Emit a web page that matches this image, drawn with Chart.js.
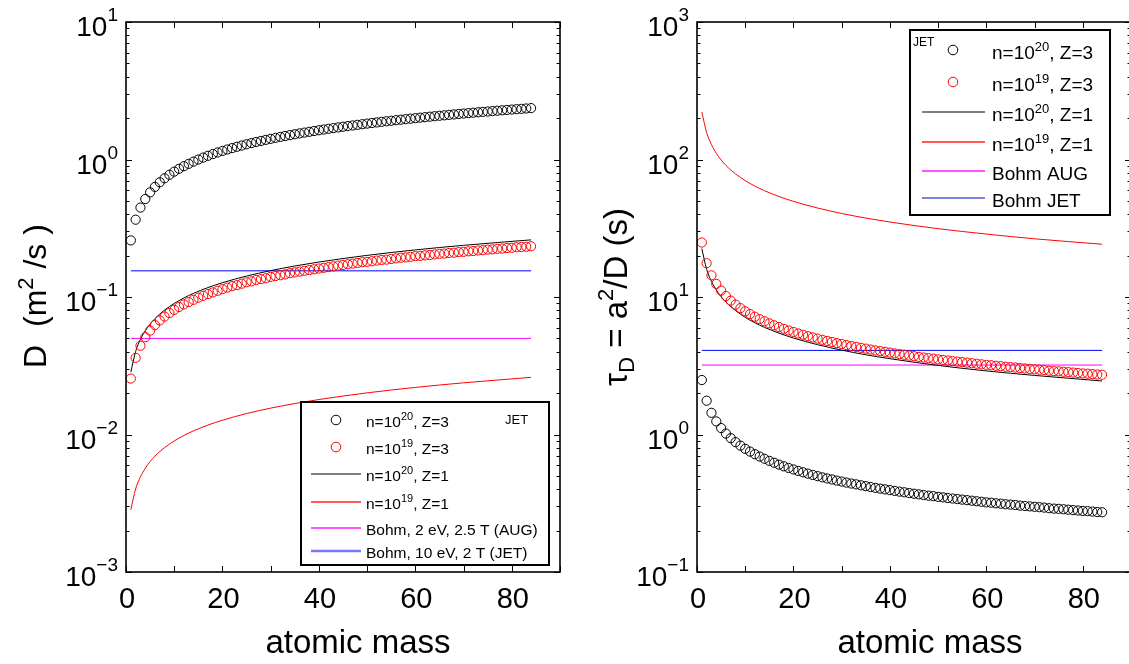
<!DOCTYPE html>
<html>
<head>
<meta charset="utf-8">
<script src="https://cdn.jsdelivr.net/npm/chart.js@4.4.1/dist/chart.umd.min.js"></script>
<style>
  html, body { margin: 0; padding: 0; background: #fff; overflow: hidden; width: 1129px; height: 664px; }
  canvas { position: absolute; top: 0; }
  #left { left: 0; }
  #right { left: 570px; }
</style>
</head>
<body>
<canvas id="left" width="570" height="664"></canvas>
<canvas id="right" width="570" height="664"></canvas>
<script>
// atomic mass of every marker
const mass = [1, 2, 3, 4, 5, 6, 7, 8, 9, 10, 11, 12, 13, 14, 15, 16, 17, 18, 19, 20,
  21, 22, 23, 24, 25, 26, 27, 28, 29, 30, 31, 32, 33, 34, 35, 36, 37, 38, 39, 40,
  41, 42, 43, 44, 45, 46, 47, 48, 49, 50, 51, 52, 53, 54, 55, 56, 57, 58, 59, 60,
  61, 62, 63, 64, 65, 66, 67, 68, 69, 70, 71, 72, 73, 74, 75, 76, 77, 78, 79, 80,
  81, 82, 83, 84];
// masses
const lineMass = [1, 2, 3, 4, 5, 6, 7, 8, 10, 12, 14, 17, 20, 25, 30, 35, 40, 50, 60, 70, 84];
const bohmMass = [1, 84];

// left panel : D (m^2/s)
const dCircHi = [0.258, 0.365, 0.447, 0.516, 0.577, 0.632, 0.683, 0.730, 0.774, 0.816,
  0.856, 0.894, 0.930, 0.965, 0.999, 1.032, 1.064, 1.095, 1.125, 1.154,
  1.182, 1.210, 1.237, 1.264, 1.290, 1.316, 1.341, 1.365, 1.389, 1.413,
  1.437, 1.460, 1.482, 1.504, 1.526, 1.548, 1.569, 1.590, 1.611, 1.632,
  1.652, 1.672, 1.692, 1.711, 1.731, 1.750, 1.769, 1.787, 1.806, 1.824,
  1.842, 1.860, 1.878, 1.896, 1.913, 1.931, 1.948, 1.965, 1.982, 1.998,
  2.015, 2.031, 2.048, 2.064, 2.080, 2.096, 2.112, 2.127, 2.143, 2.159,
  2.174, 2.189, 2.204, 2.219, 2.234, 2.249, 2.264, 2.279, 2.293, 2.308,
  2.322, 2.336, 2.350, 2.365];
const dCircLo = [0.0255, 0.0361, 0.0442, 0.0510, 0.0570, 0.0625, 0.0675, 0.0721, 0.0765, 0.0806,
  0.0846, 0.0883, 0.0919, 0.0954, 0.0988, 0.102, 0.105, 0.108, 0.111, 0.114,
  0.117, 0.120, 0.122, 0.125, 0.128, 0.130, 0.133, 0.135, 0.137, 0.140,
  0.142, 0.144, 0.146, 0.149, 0.151, 0.153, 0.155, 0.157, 0.159, 0.161,
  0.163, 0.165, 0.167, 0.169, 0.171, 0.173, 0.175, 0.177, 0.179, 0.180,
  0.182, 0.184, 0.186, 0.187, 0.189, 0.191, 0.193, 0.194, 0.196, 0.198,
  0.199, 0.201, 0.202, 0.204, 0.206, 0.207, 0.209, 0.210, 0.212, 0.213,
  0.215, 0.216, 0.218, 0.219, 0.221, 0.222, 0.224, 0.225, 0.227, 0.228,
  0.230, 0.231, 0.232, 0.234];
const dLineHi = [0.0284, 0.0402, 0.0492, 0.0568, 0.0635, 0.0696, 0.0751, 0.0803, 0.0898, 0.0984,
  0.1063, 0.1171, 0.1270, 0.142, 0.1555, 0.168, 0.1796, 0.2008, 0.220, 0.2376, 0.2603];
const dLineLo = [0.00284, 0.00402, 0.00492, 0.00568, 0.00635, 0.00696, 0.00751, 0.00803, 0.00898, 0.00984,
  0.01063, 0.01171, 0.0127, 0.0142, 0.01555, 0.0168, 0.01796, 0.02008, 0.0220, 0.02376, 0.02603];
const dBohmAug = [0.050, 0.050];
const dBohmJet = [0.155, 0.155];

// right panel : tau_D = a^2/D (s)
const tCircHi = [2.49, 1.761, 1.438, 1.245, 1.114, 1.016, 0.941, 0.880, 0.830, 0.787,
  0.751, 0.719, 0.691, 0.666, 0.643, 0.623, 0.604, 0.587, 0.571, 0.557,
  0.543, 0.531, 0.519, 0.508, 0.498, 0.488, 0.479, 0.471, 0.462, 0.455,
  0.447, 0.440, 0.434, 0.427, 0.421, 0.415, 0.409, 0.404, 0.399, 0.394,
  0.389, 0.384, 0.380, 0.375, 0.371, 0.367, 0.363, 0.359, 0.356, 0.352,
  0.349, 0.345, 0.342, 0.339, 0.336, 0.333, 0.330, 0.327, 0.324, 0.321,
  0.319, 0.316, 0.314, 0.311, 0.309, 0.307, 0.304, 0.302, 0.300, 0.298,
  0.296, 0.294, 0.291, 0.289, 0.288, 0.286, 0.284, 0.282, 0.280, 0.278,
  0.277, 0.275, 0.273, 0.272];
const tCircLo = [24.9, 17.61, 14.38, 12.45, 11.14, 10.16, 9.41, 8.80, 8.30, 7.87,
  7.51, 7.19, 6.91, 6.66, 6.43, 6.23, 6.04, 5.87, 5.71, 5.57,
  5.43, 5.31, 5.19, 5.08, 4.98, 4.88, 4.79, 4.71, 4.62, 4.55,
  4.47, 4.40, 4.34, 4.27, 4.21, 4.15, 4.09, 4.04, 3.99, 3.94,
  3.89, 3.84, 3.80, 3.75, 3.71, 3.67, 3.63, 3.59, 3.56, 3.52,
  3.49, 3.45, 3.42, 3.39, 3.36, 3.33, 3.30, 3.27, 3.24, 3.21,
  3.19, 3.16, 3.14, 3.11, 3.09, 3.07, 3.04, 3.02, 3.00, 2.98,
  2.96, 2.94, 2.91, 2.89, 2.88, 2.86, 2.84, 2.82, 2.80, 2.78,
  2.77, 2.75, 2.73, 2.72];
const tLineHi = [22.5, 15.91, 12.99, 11.25, 10.06, 9.18, 8.51, 7.96, 7.11, 6.50,
  6.01, 5.46, 5.03, 4.50, 4.11, 3.80, 3.56, 3.18, 2.90, 2.69, 2.45];
const tLineLo = [222, 157, 128.2, 111, 99.3, 90.6, 83.9, 78.5, 70.2, 64.1,
  59.3, 53.8, 49.6, 44.4, 40.5, 37.5, 35.1, 31.4, 28.7, 26.5, 24.2];
const tBohmAug = [3.20, 3.20];
const tBohmJet = [4.09, 4.09];

// axes
const xTicks = [0, 10, 20, 30, 40, 50, 60, 70, 80, 90];
const xLabels = [0, 20, 40, 60, 80];
const leftDecades = [-3, -2, -1, 0, 1];
const rightDecades = [-1, 0, 1, 2, 3];

const leftLegend = [
  [['n=10'], ['20', 1], [', Z=3']],
  [['n=10'], ['19', 1], [', Z=3']],
  [['n=10'], ['20', 1], [', Z=1']],
  [['n=10'], ['19', 1], [', Z=1']],
  [['Bohm, 2 eV, 2.5 T (AUG)']],
  [['Bohm, 10 eV, 2 T (JET)']]
];
const rightLegend = [
  [['n=10'], ['20', 1], [', Z=3']],
  [['n=10'], ['19', 1], [', Z=3']],
  [['n=10'], ['20', 1], [', Z=1']],
  [['n=10'], ['19', 1], [', Z=1']],
  [['Bohm AUG']],
  [['Bohm JET']]
];

const F = '"Liberation Sans", Arial, Helvetica, sans-serif';

function pts(xs, ys) {
  return xs.map((x, i) => ({ x: x, y: ys[i] }));
}

function rich(ctx, x, y, parts, size, align, supRise) {
  const small = Math.round(size * 0.68);
  const rise = supRise || size * 0.42;
  let w = 0;
  parts.forEach(p => {
    ctx.font = (p[1] ? small : size) + 'px ' + F;
    w += ctx.measureText(p[0]).width;
  });
  let cx = align === 'center' ? x - w / 2 : (align === 'right' ? x - w : x);
  ctx.textAlign = 'left';
  ctx.textBaseline = 'alphabetic';
  parts.forEach(p => {
    const k = p[1] || 0;
    ctx.font = (k ? small : size) + 'px ' + F;
    const dy = k === 1 ? -rise : (k === -1 ? size * 0.22 : 0);
    ctx.fillText(p[0], cx, y + dy);
    cx += ctx.measureText(p[0]).width;
  });
}

function circleSet(ys, color) {
  return {
    data: pts(mass, ys), showLine: false, pointStyle: 'circle', pointRadius: 4.6,
    borderColor: color, backgroundColor: 'rgba(0,0,0,0)', pointBorderWidth: 1
  };
}
function lineSet(xs, ys, color) {
  return {
    data: pts(xs, ys), showLine: true, pointRadius: 0, borderColor: color,
    borderWidth: 1, cubicInterpolationMode: 'monotone', fill: false
  };
}

// box, inward ticks, labels, titles and legend
const decor = {
  id: 'decor',
  afterDraw(chart, args, o) {
    const ctx = chart.ctx;
    const a = chart.chartArea;
    const xs = chart.scales.x, ys = chart.scales.y;
    ctx.save();
    ctx.strokeStyle = '#000';
    ctx.fillStyle = '#000';
    ctx.lineWidth = 1.6;
    ctx.strokeRect(a.left, a.top, a.right - a.left, a.bottom - a.top);
    ctx.lineWidth = 1;
    ctx.beginPath();
    xTicks.forEach(v => {
      const px = Math.round(xs.getPixelForValue(v)) + 0.5;
      ctx.moveTo(px, a.bottom); ctx.lineTo(px, a.bottom - 6);
      ctx.moveTo(px, a.top); ctx.lineTo(px, a.top + 6);
    });
    o.decades.forEach((d, i) => {
      for (let k = 1; k < 10; k++) {
        if (k > 1 && i === o.decades.length - 1) break;
        const py = Math.round(ys.getPixelForValue(k * Math.pow(10, d))) + 0.5;
        const len = k === 1 ? 6 : 3.5;
        ctx.moveTo(a.left, py); ctx.lineTo(a.left + len, py);
        ctx.moveTo(a.right, py); ctx.lineTo(a.right - len, py);
      }
    });
    ctx.stroke();

    // tick labels
    o.decades.forEach(d => {
      const py = ys.getPixelForValue(Math.pow(10, d));
      const e = d < 0 ? '\u2212' + (-d) : String(d);
      rich(ctx, a.left - 8, py + 14, [['10'], [e, 1]], 28, 'right', 15);
    });
    xLabels.forEach(v => {
      ctx.textAlign = 'center';
      ctx.font = '29px ' + F;
      ctx.fillText(String(v), xs.getPixelForValue(v) + 1, 608);
    });

    // axis titles
    ctx.font = '33px ' + F;
    ctx.textAlign = 'center';
    ctx.fillText('atomic mass', o.xTitleX, 653);
    ctx.save();
    ctx.translate(o.yTitle.x, o.yTitle.y);
    ctx.rotate(-Math.PI / 2);
    rich(ctx, 0, 0, o.yTitle.parts, o.yTitle.size, 'center');
    ctx.restore();

    // legend
    const L = o.legend;
    ctx.fillStyle = '#fff';
    ctx.fillRect(L.x, L.y, L.w, L.h);
    ctx.lineWidth = 2;
    ctx.strokeStyle = '#000';
    ctx.strokeRect(L.x, L.y, L.w, L.h);
    L.rows.forEach((r, i) => {
      const it = L.items[i];
      ctx.strokeStyle = it.color;
      ctx.lineWidth = it.lw;
      ctx.beginPath();
      if (it.circle) {
        ctx.arc(L.markX, r, 4.8, 0, Math.PI * 2);
      } else {
        ctx.moveTo(L.lineX0, r); ctx.lineTo(L.lineX1, r);
      }
      ctx.stroke();
      ctx.fillStyle = '#000';
      rich(ctx, L.textX, r + L.dy, L.labels[i], L.size, 'left');
    });
    ctx.font = L.note.size + 'px ' + F;
    ctx.textAlign = 'left';
    ctx.fillText('JET', L.note.x, L.note.y);
    ctx.restore();
  }
};

function makeChart(id, sets, yMin, yMax, yWidth, padRight, decorOpts) {
  return new Chart(document.getElementById(id), {
    type: 'scatter',
    data: { datasets: sets },
    options: {
      responsive: false,
      animation: false,
      devicePixelRatio: 1,
      layout: { padding: { top: 22, right: padRight, left: 0, bottom: 0 } },
      scales: {
        x: {
          type: 'linear', min: 0, max: 90,
          ticks: { display: false }, grid: { display: false }, border: { display: false },
          afterFit(s) { s.height = 92; }
        },
        y: {
          type: 'logarithmic', min: yMin, max: yMax,
          ticks: { display: false }, grid: { display: false }, border: { display: false },
          afterFit(s) { s.width = yWidth; }
        }
      },
      plugins: { legend: { display: false }, tooltip: { enabled: false }, decor: decorOpts }
    },
    plugins: [decor]
  });
}

makeChart('left', [
  circleSet(dCircHi, '#000'),
  circleSet(dCircLo, '#f00'),
  lineSet(lineMass, dLineHi, '#000'),
  lineSet(lineMass, dLineLo, '#f00'),
  lineSet(bohmMass, dBohmAug, '#f0f'),
  lineSet(bohmMass, dBohmJet, '#00f')
], 1e-3, 10, 126, 10, {
  decades: leftDecades,
  xTitleX: 358,
  yTitle: { x: 46, y: 296, size: 32, parts: [['D  (m'], ['2', 1], [' /s )']] },
  legend: {
    x: 301, y: 402, w: 248, h: 163, markX: 336, lineX0: 311, lineX1: 361, textX: 366,
    dy: 6.5, size: 15.5, rows: [420, 447, 474, 502, 528, 551], labels: leftLegend,
    note: { x: 505, y: 424, size: 13 },
    items: [
      { circle: true, color: '#000', lw: 1 }, { circle: true, color: '#f00', lw: 1 },
      { color: '#555', lw: 1.5 }, { color: '#f22', lw: 1.5 },
      { color: '#ff55ff', lw: 2 }, { color: '#7777ff', lw: 2.5 }
    ]
  }
});

makeChart('right', [
  circleSet(tCircHi, '#000'),
  circleSet(tCircLo, '#f00'),
  lineSet(lineMass, tLineHi, '#000'),
  lineSet(lineMass, tLineLo, '#f00'),
  lineSet(bohmMass, tBohmAug, '#f0f'),
  lineSet(bohmMass, tBohmJet, '#00f')
], 0.1, 1000, 127, 9, {
  decades: rightDecades,
  xTitleX: 360,
  yTitle: { x: 57, y: 297, size: 33, parts: [['\u03c4'], ['D', -1], [' = a'], ['2', 1], ['/D (s)']] },
  legend: {
    x: 340, y: 30, w: 200, h: 185, markX: 383, lineX0: 352, lineX1: 415, textX: 422,
    dy: 8.5, size: 19, rows: [50, 82, 112, 142, 171, 198], labels: rightLegend,
    note: { x: 343, y: 46, size: 12 },
    items: [
      { circle: true, color: '#000', lw: 1 }, { circle: true, color: '#f00', lw: 1 },
      { color: '#555', lw: 1.5 }, { color: '#f22', lw: 1.5 },
      { color: '#ff55ff', lw: 2 }, { color: '#00c', lw: 1.2 }
    ]
  }
});
</script>
</body>
</html>
